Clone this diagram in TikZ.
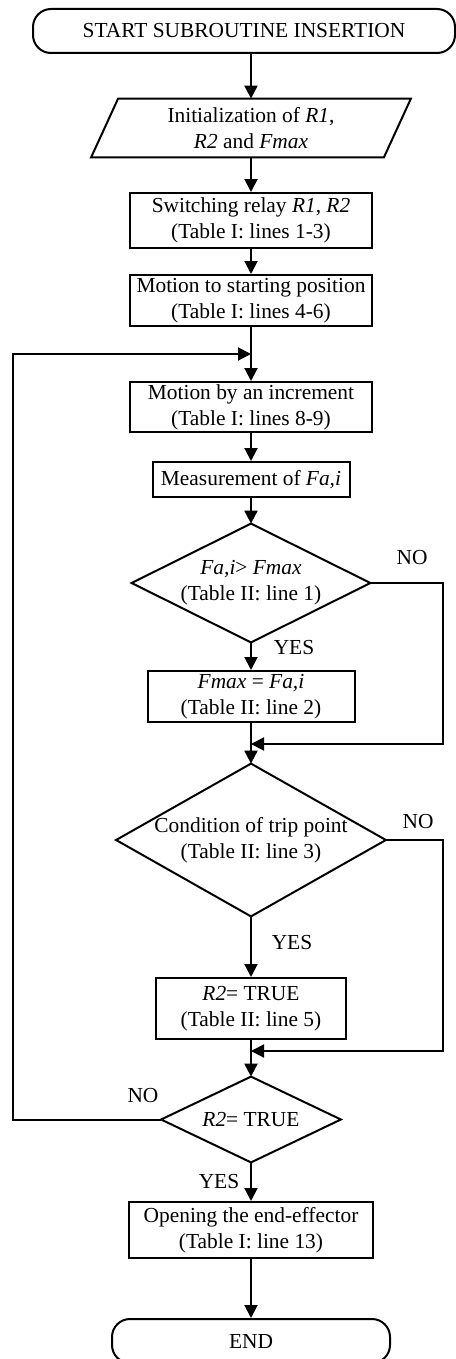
\documentclass[tikz,border=0pt]{standalone}
\usepackage{fontspec}
\setmainfont{Liberation Serif}
\usetikzlibrary{arrows.meta}
\tikzset{
  base/.style={font=\fontsize{10.7}{13}\selectfont, align=center, inner sep=0pt},
  proc/.style={base, draw, rectangle, line width=1pt},
  term/.style={base, draw, rectangle, rounded corners=9pt, line width=1pt},
  dia/.style={base, rectangle},
  io/.style={base, rectangle},
  lbl/.style={base},
  arr/.style={line width=1pt, -{Triangle[length=6.5pt,width=6.5pt]}},
  ln/.style={line width=1pt, line join=miter},
}
\begin{document}
\begin{tikzpicture}[x=0.5pt,y=-0.5pt]
\useasboundingbox (0,0) rectangle (455,1359);

% nodes
\node[term, minimum width=211pt, minimum height=22pt] (start) at (244,31) {START SUBROUTINE INSERTION};
\node[io, minimum width=159.5pt, minimum height=29pt] (init) at (251,128) {Initialization of \textit{R1},\\ \textit{R2} and \textit{Fmax}};
\draw[ln] ([xshift=13.5pt]init.north west) -- (init.north east) -- ([xshift=-13.5pt]init.south east) -- (init.south west) -- cycle;

\node[proc, minimum width=121pt, minimum height=27.5pt] (b1) at (251,220.5) {Switching relay \textit{R1}, \textit{R2}\\(Table I: lines 1-3)};
\node[proc, minimum width=121pt, minimum height=25.5pt] (b2) at (251,300.5) {Motion to starting position\\(Table I: lines 4-6)};
\coordinate (m1) at (251,354);
\node[proc, minimum width=121pt, minimum height=25pt] (b3) at (251,407) {Motion by an increment\\(Table I: lines 8-9)};
\node[proc, minimum width=98.5pt, minimum height=17.5pt] (b4) at (251,479.5) {Measurement of \textit{Fa,i}};

\node[dia, minimum width=119pt, minimum height=59pt] (d1) at (251,583) {\textit{Fa,i}> \textit{Fmax}\\(Table II: line 1)};
\draw[ln] (d1.north) -- (d1.east) -- (d1.south) -- (d1.west) -- cycle;

\node[proc, minimum width=103.5pt, minimum height=25.5pt] (b5) at (251,696.5) {\textit{Fmax} = \textit{Fa,i}\\(Table II: line 2)};
\coordinate (m2) at (251,744);

\node[dia, minimum width=134.5pt, minimum height=76pt] (d2) at (251,840) {Condition of trip point\\(Table II: line 3)};
\draw[ln] (d2.north) -- (d2.east) -- (d2.south) -- (d2.west) -- cycle;

\node[proc, minimum width=95pt, minimum height=30.5pt] (b6) at (251,1008.5) {\textit{R2}= TRUE\\(Table II: line 5)};
\coordinate (m3) at (251,1051);

\node[dia, minimum width=89.5pt, minimum height=42.5pt] (d3) at (251,1119.5) {\textit{R2}= TRUE};
\draw[ln] (d3.north) -- (d3.east) -- (d3.south) -- (d3.west) -- cycle;

\node[proc, minimum width=122pt, minimum height=28pt] (b7) at (251,1230) {Opening the end-effector\\(Table I: line 13)};
\node[term, minimum width=139pt, minimum height=22pt] (end) at (251,1341) {END};

% labels
\node[lbl] (no1) at (412,558) {NO};
\node[lbl] (yes1) at (294,648) {YES};
\node[lbl] (no2) at (418,822) {NO};
\node[lbl] (yes2) at (292,943) {YES};
\node[lbl] (no3) at (143,1096) {NO};
\node[lbl] (yes3) at (219,1182) {YES};

% connectors
\draw[arr] (start.south -| init.north) -- (init.north);
\draw[arr] (init.south) -- (b1.north);
\draw[arr] (b1.south) -- (b2.north);
\draw[arr] (b2.south) -- (b3.north);
\draw[arr] (b3.south) -- (b4.north);
\draw[arr] (b4.south) -- (d1.north);
\draw[arr] (d1.south) -- (b5.north);
\draw[arr] (b5.south) -- (d2.north);
\draw[arr] (d2.south) -- (b6.north);
\draw[arr] (b6.south) -- (d3.north);
\draw[arr] (d3.south) -- (b7.north);
\draw[arr] (b7.south) -- (end.north);

\draw[arr] (d1.east) -- ++(73,0) |- (m2);
\draw[arr] (d2.east) -- ++(57,0) |- (m3);
\draw[arr] (d3.west) -- ++(-148,0) |- (m1);
\end{tikzpicture}
\end{document}
